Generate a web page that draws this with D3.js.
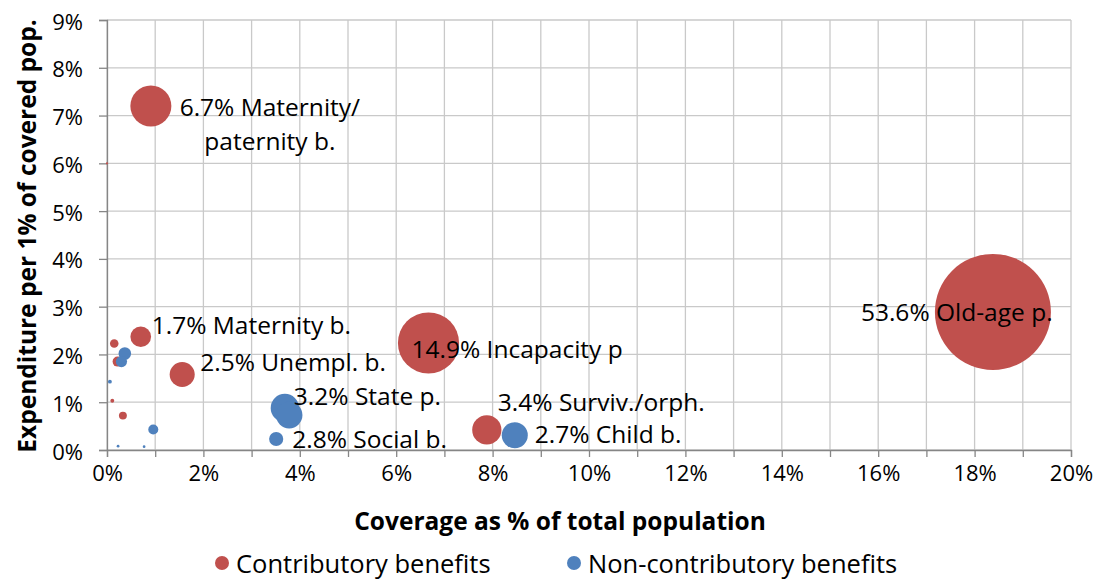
<!DOCTYPE html>
<html>
<head>
<meta charset="utf-8">
<script src="https://cdn.jsdelivr.net/npm/d3@7"></script>
<style>
  body { margin: 0; background: #fff; }
  text { font-family: "Open Sans", sans-serif; fill: #000; }
</style>
</head>
<body>
<svg id="chart" width="1103" height="581"></svg>
<script>
// coverage (% of total population), expenditure per 1% covered, bubble size (% of spending)
var contribX = [0.91, 0.00, 0.70, 0.15, 0.22, 1.56, 0.11, 0.33, 6.67, 7.88, 18.38];
var contribY = [7.20, 6.00, 2.37, 2.23, 1.85, 1.58, 1.03, 0.72, 2.24, 0.42, 2.89];
var contribSize = [6.7, 0.02, 1.7, 0.29, 0.4, 2.5, 0.06, 0.25, 14.9, 3.4, 53.6];
var contribLabel = ["6.7% Maternity/\npaternity b.", "", "1.7% Maternity b.", "", "",
    "2.5% Unempl. b.", "", "", "14.9% Incapacity p", "3.4% Surviv./orph.", "53.6% Old-age p."];

var nonX = [0.37, 0.30, 0.06, 0.96, 0.23, 0.77, 3.69, 3.78, 3.51, 8.46];
var nonY = [2.02, 1.85, 1.43, 0.43, 0.08, 0.07, 0.88, 0.73, 0.23, 0.31];
var nonSize = [0.63, 0.5, 0.06, 0.4, 0.03, 0.03, 3.2, 2.8, 0.8, 2.7];
var nonLabel = ["", "", "", "", "", "", "3.2% State p.", "", "2.8% Social b.", "2.7% Child b."];

var xTicks = [0, 2, 4, 6, 8, 10, 12, 14, 16, 18, 20];
var yTicks = [0, 1, 2, 3, 4, 5, 6, 7, 8, 9];
var seriesNames = ["Contributory benefits", "Non-contributory benefits"];

var RED = "#c0504d", BLUE = "#4f81bd";

// label placement, px offsets from the bubble centre
var labelOffset = {
    "6.7% Maternity/\npaternity b.": {dx: 119, dy: 0, anchor: "middle"},
    "1.7% Maternity b.": {dx: 11, dy: -12},
    "2.5% Unempl. b.": {dx: 18, dy: -13},
    "14.9% Incapacity p": {dx: -17, dy: 6},
    "3.4% Surviv./orph.": {dx: 11, dy: -28},
    "53.6% Old-age p.": {dx: -132, dy: 0},
    "3.2% State p.": {dx: 9, dy: -12},
    "2.8% Social b.": {dx: 16, dy: -1},
    "2.7% Child b.": {dx: 20, dy: -2}
};

var plot = {left: 107, right: 1071, top: 20, bottom: 450};

var svg = d3.select("#chart");

var x = d3.scaleLinear().domain([0, 20]).range([plot.left, plot.right]);
var y = d3.scaleLinear().domain([0, 9]).range([plot.bottom, plot.top]);
var r = d3.scaleSqrt().domain([0, 53.6]).range([0, 58]);

// gridlines every 1%
svg.append("g").selectAll("line")
    .data(d3.range(0, 21))
    .enter().append("line")
    .attr("x1", function(d) { return x(d); })
    .attr("x2", function(d) { return x(d); })
    .attr("y1", plot.top).attr("y2", plot.bottom)
    .attr("stroke", "#c9c9c9").attr("stroke-width", 1.3);

svg.append("g").selectAll("line")
    .data(yTicks)
    .enter().append("line")
    .attr("x1", plot.left).attr("x2", plot.right)
    .attr("y1", function(d) { return y(d); })
    .attr("y2", function(d) { return y(d); })
    .attr("stroke", "#c9c9c9").attr("stroke-width", 1.3);

// axes
var xAxis = svg.append("g")
    .attr("transform", "translate(0," + plot.bottom + ")")
    .call(d3.axisBottom(x).tickValues(d3.range(0, 21)).tickSize(7)
        .tickFormat(function(d) { return xTicks.indexOf(d) >= 0 ? d + "%" : ""; }));
var yAxis = svg.append("g")
    .attr("transform", "translate(" + plot.left + ",0)")
    .call(d3.axisLeft(y).tickValues(yTicks).tickSize(8).tickFormat(function(d) { return d + "%"; }));

[xAxis, yAxis].forEach(function(ax) {
    ax.select(".domain").attr("stroke", "#868686").attr("stroke-width", 1.3);
    ax.selectAll(".tick line").attr("stroke", "#868686").attr("stroke-width", 1.3);
    ax.selectAll(".tick text")
        .attr("font-family", "Open Sans").attr("font-size", 22).attr("fill", "#000");
});
xAxis.selectAll(".tick text").attr("dy", null).attr("y", 22).attr("dominant-baseline", "central");
yAxis.selectAll(".tick text").attr("x", -24).attr("dy", null).attr("dominant-baseline", "central");

// bubbles
function buildSeries(xs, ys, sizes, labels, color) {
    return xs.map(function(v, i) {
        return {x: v, y: ys[i], s: sizes[i], label: labels[i], color: color};
    }).sort(function(a, b) { return b.s - a.s; });
}
var red = buildSeries(contribX, contribY, contribSize, contribLabel, RED);
var blue = buildSeries(nonX, nonY, nonSize, nonLabel, BLUE);
var all = red.concat(blue);

svg.append("g").selectAll("circle")
    .data(all)
    .enter().append("circle")
    .attr("cx", function(d) { return x(d.x); })
    .attr("cy", function(d) { return y(d.y); })
    .attr("r", function(d) { return Math.max(r(d.s), 1); })
    .attr("fill", function(d) { return d.color; });

// data labels
var labelled = all.filter(function(d) { return d.label; });
var lbl = svg.append("g").selectAll("text")
    .data(labelled)
    .enter().append("text")
    .attr("font-size", 24.5)
    .attr("text-anchor", function(d) { return labelOffset[d.label].anchor || "start"; })
    .attr("transform", function(d) {
        var o = labelOffset[d.label];
        return "translate(" + (x(d.x) + o.dx) + "," + (y(d.y) + o.dy) + ")";
    });
lbl.selectAll("tspan")
    .data(function(d) { return d.label.split("\n"); })
    .enter().append("tspan")
    .attr("x", 0)
    .attr("y", function(d, i) { return i * 34; })
    .attr("dominant-baseline", "central")
    .text(function(d) { return d; });

// axis titles
svg.append("text")
    .attr("x", 560).attr("y", 520)
    .attr("text-anchor", "middle").attr("dominant-baseline", "central")
    .attr("font-size", 24.5).attr("font-weight", "bold")
    .text("Coverage as % of total population");

svg.append("text")
    .attr("transform", "translate(26,236) rotate(-90)")
    .attr("text-anchor", "middle").attr("dominant-baseline", "central")
    .attr("font-size", 24.5).attr("font-weight", "bold")
    .text("Expenditure per 1% of covered pop.");

// legend
var legendX = [222, 574];
var leg = svg.append("g").selectAll("g")
    .data(seriesNames)
    .enter().append("g")
    .attr("transform", function(d, i) { return "translate(" + legendX[i] + ",563)"; });
leg.append("circle").attr("r", 7)
    .attr("fill", function(d, i) { return i == 0 ? RED : BLUE; });
leg.append("text")
    .attr("x", 14).attr("dominant-baseline", "central")
    .attr("font-size", 25.5)
    .text(function(d) { return d; });
</script>
</body>
</html>
